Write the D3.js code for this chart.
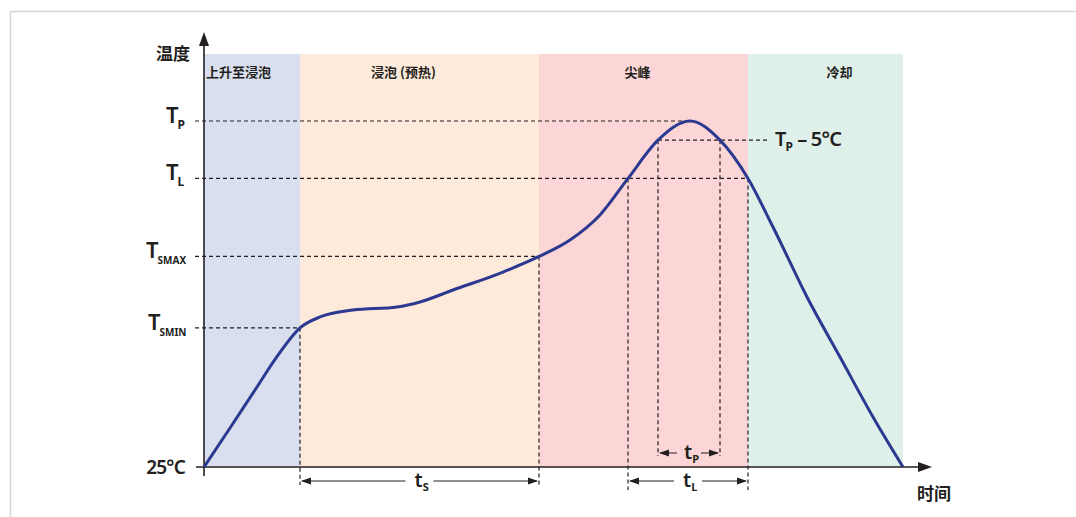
<!DOCTYPE html>
<html><head><meta charset="utf-8">
<script src="https://cdn.jsdelivr.net/npm/d3@7"></script>
<style>
body{margin:0;background:#fff;}
svg{display:block;}
text{font-family:"Noto Sans","Noto Sans CJK SC",sans-serif;fill:#231f20;}
.cjk{font-family:"Noto Sans CJK SC",sans-serif;font-weight:700;}
</style></head>
<body>
<svg id="c" width="1076" height="517"></svg>
<script>
// ---- data ----
const phaseNames = ["上升至浸泡", "浸泡 (预热)", "尖峰", "冷却"];
const phaseStart = [0, 48, 167.5, 272];
const phaseEnd = [48, 167.5, 272, 349.5];
const phaseColors = ["#d9dfee", "#fdeadb", "#fcd6d6", "#dff0ea"];

const profileTime = [0, 13, 25.5, 37, 48, 58, 74.5, 96.5, 108, 124.5, 149.5, 167.5, 183, 198, 212, 227, 243, 258, 272, 284.5, 301.5, 318, 334.5, 349.5];
const profileTemp = [25, 51.5, 77.3, 101, 119.5, 126.9, 131.6, 133.7, 137.1, 145.2, 157.4, 168, 179.2, 196.2, 221, 247, 260, 247, 221, 188, 140.5, 99.7, 59, 25];

const levelNames = ["P", "L", "SMAX", "SMIN"];
const levelTemps = [260, 221, 168, 119.5];
const startTemp = 25;
const tp5Temp = 247;
// time markers
const tsmin = 48, tsmax = 167.5, tL1 = 212, tL2 = 272, tp1 = 227, tp2 = 258, tPeak = 243;

// ---- scales ----
const svg = d3.select("#c");
const x = d3.scaleLinear().domain([0, 350]).range([204, 904]);
const y = d3.scaleLinear().domain([25, 260]).range([467, 121]);
const bandTop = 54;

// frame
svg.append("path").attr("d", "M10.5,517 V11.5 H1076").attr("fill", "none").attr("stroke", "#cfd8de").attr("stroke-width", 1.5);

// bands
svg.selectAll("rect.band").data(phaseNames).enter().append("rect")
  .attr("x", (d, i) => x(phaseStart[i])).attr("y", bandTop)
  .attr("width", (d, i) => x(phaseEnd[i]) - x(phaseStart[i]))
  .attr("height", y(startTemp) - bandTop)
  .attr("fill", (d, i) => phaseColors[i]);
svg.selectAll("text.band").data(phaseNames).enter().append("text")
  .attr("class", "cjk")
  .attr("x", (d, i) => i === 0 ? x(phaseStart[i]) + 2 : (x(phaseStart[i]) + x(phaseEnd[i])) / 2 - (i===1?16:(i===2?6:-14)))
  .attr("y", 77).attr("font-size", 13)
  .attr("text-anchor", (d, i) => i === 0 ? "start" : "middle")
  .text(d => d);

const dash = g => g.attr("stroke", "#231f20").attr("stroke-width", 1.2).attr("stroke-dasharray", "4,3").attr("fill", "none");

// horizontal dashed level lines
const levelEndTime = [tPeak, tL2, tsmax, tsmin];
levelTemps.forEach((t, i) => {
  svg.append("line").attr("x1", 195).attr("x2", x(levelEndTime[i])).attr("y1", y(t)).attr("y2", y(t)).call(dash);
});
// Tp - 5 line
svg.append("line").attr("x1", x(tp1)).attr("x2", 770).attr("y1", y(tp5Temp)).attr("y2", y(tp5Temp)).call(dash);
// vertical dashed lines
const vlines = [[tsmin, 119.5, 485], [tsmax, 168, 485], [tL1, 221, 490], [tL2, 221, 490], [tp1, tp5Temp, 456], [tp2, tp5Temp, 456]];
vlines.forEach(v => {
  svg.append("line").attr("x1", x(v[0])).attr("x2", x(v[0])).attr("y1", y(v[1])).attr("y2", v[2]).call(dash);
});

// axes
const ax = svg.append("g").attr("stroke", "#231f20").attr("stroke-width", 1.6);
ax.append("line").attr("x1", x(0)).attr("x2", x(0)).attr("y1", 476).attr("y2", 40);
ax.append("line").attr("x1", 196).attr("x2", 922).attr("y1", y(25)).attr("y2", y(25));
svg.append("path").attr("d", `M${x(0)},32 L${x(0)-5},46 L${x(0)+5},46 Z`).attr("fill", "#231f20");
svg.append("path").attr("d", `M932,${y(25)} L918,${y(25)-5} L918,${y(25)+5} Z`).attr("fill", "#231f20");

// profile curve
const pts = profileTime.map((t, i) => [x(t), y(profileTemp[i])]);
svg.append("path").attr("d", d3.line().curve(d3.curveMonotoneX)(pts))
  .attr("fill", "none").attr("stroke", "#2b3990").attr("stroke-width", 3);

// dimension arrows
function dimArrow(t1, t2, yy, label, sub, gap) {
  const x1 = x(t1), x2 = x(t2), cx = (x1 + x2) / 2;
  const g = svg.append("g");
  g.append("line").attr("x1", x1 + 2).attr("x2", cx - gap).attr("y1", yy).attr("y2", yy).attr("stroke", "#231f20").attr("stroke-width", 1);
  g.append("line").attr("x1", cx + gap).attr("x2", x2 - 2).attr("y1", yy).attr("y2", yy).attr("stroke", "#231f20").attr("stroke-width", 1);
  g.append("path").attr("d", `M${x1+1},${yy} L${x1+11},${yy-3.5} L${x1+11},${yy+3.5} Z`).attr("fill", "#231f20");
  g.append("path").attr("d", `M${x2-1},${yy} L${x2-11},${yy-3.5} L${x2-11},${yy+3.5} Z`).attr("fill", "#231f20");
  const tx = g.append("text").attr("x", cx - 5).attr("y", yy + 6).attr("font-size", 20).attr("font-weight", 600);
  tx.append("tspan").text(label);
  tx.append("tspan").attr("font-size", 11).attr("font-weight", 700).attr("dy", 4).text(sub);
}
dimArrow(tsmin, tsmax, 481, "t", "S", 14);
dimArrow(tp1, tp2, 453, "t", "P", 12);
dimArrow(tL1, tL2, 481, "t", "L", 14);

// y labels
const labX = [166, 166, 146, 148];
levelNames.forEach((n, i) => {
  const tx = svg.append("text").attr("x", labX[i]).attr("y", y(levelTemps[i]) + 2).attr("font-size", 22).attr("font-weight", 600);
  tx.append("tspan").text("T");
  tx.append("tspan").attr("font-size", n.length > 1 ? 10 : 12).attr("font-weight", 700).attr("dy", 6).attr("dx", -1).text(n);
});
svg.append("text").attr("x", 185).attr("y", y(startTemp) + 7).attr("text-anchor", "end")
  .attr("font-size", 19).attr("font-weight", 600).attr("letter-spacing", -0.8).text("25°C");
// Tp - 5°C
const tp5 = svg.append("text").attr("x", 775).attr("y", y(tp5Temp) + 6).attr("font-size", 20).attr("font-weight", 600);
tp5.append("tspan").text("T");
tp5.append("tspan").attr("font-size", 12).attr("font-weight", 700).attr("dy", 5).attr("dx", -1).text("P");
tp5.append("tspan").attr("dy", -5).attr("letter-spacing", -0.8).text(" – 5°C");

// axis titles
svg.append("text").attr("class", "cjk").attr("x", 156).attr("y", 60).attr("font-size", 17).text("温度");
svg.append("text").attr("class", "cjk").attr("x", 917).attr("y", 500).attr("font-size", 17).text("时间");
</script>
</body></html>
